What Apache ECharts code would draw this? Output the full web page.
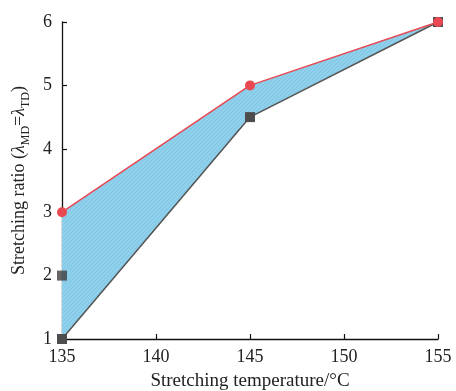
<!DOCTYPE html>
<html>
<head>
<meta charset="utf-8">
<script src="https://cdn.jsdelivr.net/npm/echarts@6/dist/echarts.min.js"></script>
<style>
  html, body { margin: 0; padding: 0; background: #fff; }
  #chart { width: 456px; height: 391px; }
</style>
</head>
<body>
<div id="chart"></div>
<script>
const temps = [135, 145, 155]
const upperRatio = [3, 5, 6]
const lowerRatio = [1, 4.5, 6]
const extraTemp = 135
const extraRatio = 2
const xTicks = [135, 140, 145, 150, 155]

// hatch pattern for the band
function hatch() {
  const c = document.createElement('canvas')
  c.width = 4; c.height = 4
  const g = c.getContext('2d')
  g.fillStyle = '#8fd1ea'
  g.fillRect(0, 0, 4, 4)
  g.strokeStyle = '#7cbfe2'
  g.lineWidth = 0.7
  g.beginPath()
  g.moveTo(0, 4); g.lineTo(4, 0)
  g.moveTo(-1, 1); g.lineTo(1, -1)
  g.moveTo(3, 5); g.lineTo(5, 3)
  g.stroke()
  return c
}

const chart = echarts.init(document.getElementById('chart'))
const font = 'Liberation Serif'
const axisCommon = {
  axisLine: { lineStyle: { color: '#111', width: 1.3 } },
  axisTick: { inside: true, length: 5, lineStyle: { color: '#111', width: 1.2 } },
  splitLine: { show: false },
  axisLabel: { fontFamily: font, fontSize: 18, color: '#222' }
}

chart.setOption({
  animation: false,
  grid: { left: 62, right: 18, top: 22, bottom: 52, outerBoundsMode: 'none', containLabel: false },
  xAxis: {
    type: 'value', min: xTicks[0], max: xTicks[xTicks.length - 1], interval: 5,
    name: 'Stretching temperature/°C', nameLocation: 'middle', nameGap: 33,
    nameTextStyle: { fontFamily: font, fontSize: 19, color: '#222' },
    ...axisCommon,
    axisLabel: { ...axisCommon.axisLabel, margin: 9 }
  },
  yAxis: {
    type: 'value', min: 1, max: 6, interval: 1,
    name: '{n|Stretching ratio (}{l|λ}{s|MD}{n|=}{l|λ}{s|TD}{n|)}',
    nameLocation: 'middle', nameGap: 30,
    nameTextStyle: {
      rich: {
        n: { fontFamily: font, fontSize: 18, color: '#222', lineHeight: 26 },
        l: { fontFamily: font, fontSize: 18, fontStyle: 'italic', color: '#222', lineHeight: 26 },
        s: { fontFamily: font, fontSize: 12, color: '#222', verticalAlign: 'bottom' }
      }
    },
    ...axisCommon,
    axisLabel: { ...axisCommon.axisLabel, margin: 10 }
  },
  series: [
    {
      type: 'custom',
      z: 1,
      data: [0],
      renderItem: (params, api) => {
        const pts = []
        temps.forEach((t, i) => pts.push(api.coord([t, upperRatio[i]])))
        for (let i = temps.length - 1; i >= 0; i--) pts.push(api.coord([temps[i], lowerRatio[i]]))
        return {
          type: 'polygon',
          shape: { points: pts },
          style: { fill: { image: hatch(), repeat: 'repeat' }, stroke: null }
        }
      }
    },
    {
      type: 'line',
      z: 3,
      data: temps.map((t, i) => [t, lowerRatio[i]]),
      symbol: 'rect', symbolSize: 10,
      lineStyle: { color: '#555', width: 1.5 },
      itemStyle: { color: '#4d4d4d' }
    },
    {
      type: 'scatter',
      z: 3,
      data: [[extraTemp, extraRatio]],
      symbol: 'rect', symbolSize: 10,
      itemStyle: { color: '#3d3d3d' }
    },
    {
      type: 'line',
      z: 4,
      data: temps.map((t, i) => [t, upperRatio[i]]),
      symbol: 'circle', symbolSize: 10,
      lineStyle: { color: '#e84852', width: 1.5 },
      itemStyle: { color: '#e84852' }
    }
  ]
})
</script>
</body>
</html>
